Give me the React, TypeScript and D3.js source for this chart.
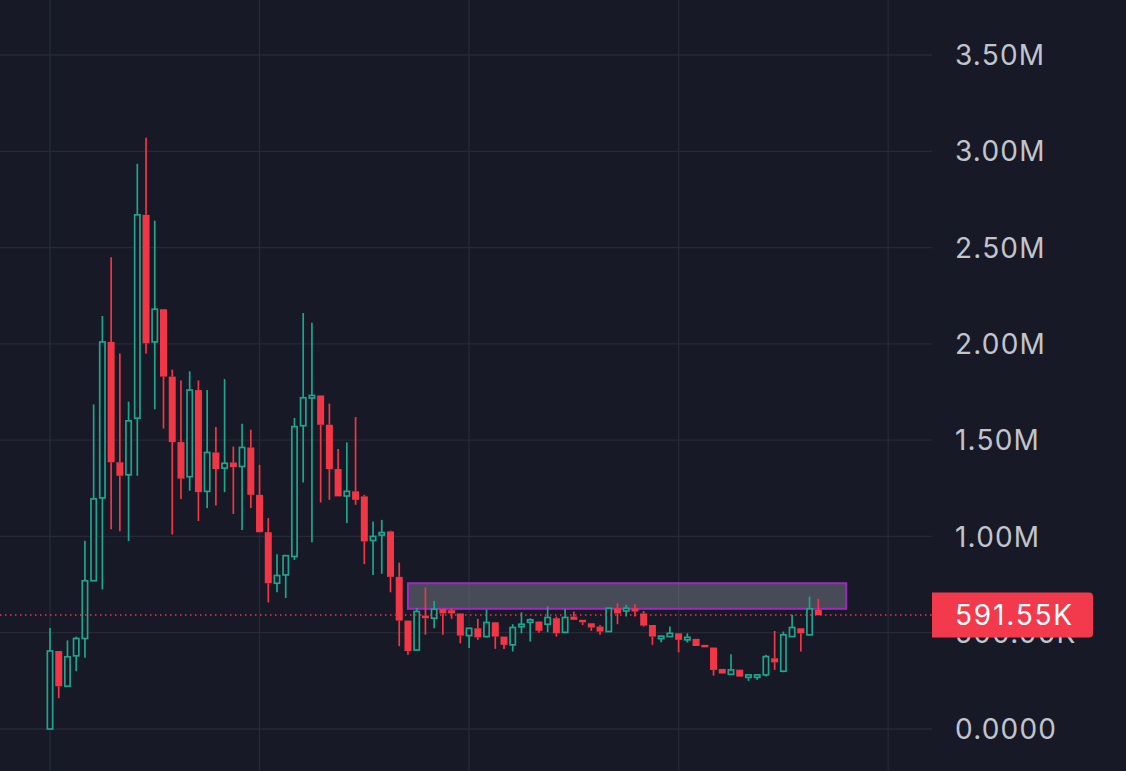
import * as d3 from 'd3';

// OHLC in thousands
const opens = [0, 405, 222, 380, 470, 770, 1200, 2010, 1385, 1320, 1614, 2670, 2010, 2180, 1830, 1490, 1310, 1760, 1234, 1436, 1355, 1384, 1363, 1462, 1216, 1022, 757, 800, 896, 1575, 1720, 1732, 1580, 1350, 1210, 1234, 1208, 979, 1008, 1026, 790, 563, 410, 589, 575, 624, 617, 600, 485, 523, 480, 554, 480, 437, 532, 558, 558, 544, 575, 502, 584, 567, 549, 532, 506, 627, 613, 627, 600, 540, 478, 480, 497, 471, 468, 437, 423, 312, 284, 308, 277, 278, 281, 367, 300, 480, 523, 489, 618];
const highs = [525, 405, 460, 480, 978, 1685, 2145, 2450, 1950, 1700, 2935, 3070, 2640, 2180, 1866, 1810, 1857, 1810, 1760, 1568, 1817, 1467, 1585, 1554, 1372, 1095, 908, 900, 1615, 2160, 2110, 1732, 1690, 1454, 1488, 1620, 1216, 1078, 1086, 1030, 864, 563, 627, 735, 665, 626, 627, 600, 525, 572, 620, 556, 480, 544, 606, 575, 560, 636, 584, 624, 610, 567, 549, 540, 630, 653, 645, 648, 613, 540, 483, 532, 497, 497, 468, 437, 423, 312, 388, 308, 281, 283, 385, 509, 506, 593, 523, 688, 676];
const lows = [0, 160, 222, 300, 370, 770, 725, 1037, 1027, 976, 1315, 1950, 1660, 1560, 1010, 1195, 1237, 1080, 1147, 1160, 1230, 1117, 1034, 1147, 1022, 657, 710, 680, 878, 1280, 970, 1176, 1190, 1208, 1070, 1164, 856, 800, 806, 710, 430, 385, 410, 490, 523, 490, 572, 445, 420, 463, 475, 416, 416, 402, 497, 454, 500, 502, 480, 497, 567, 540, 510, 489, 506, 544, 584, 584, 532, 437, 450, 480, 398, 449, 431, 426, 277, 288, 284, 272, 250, 255, 272, 307, 295, 480, 402, 487, 590];
const closes = [405, 222, 375, 470, 770, 1195, 2010, 1385, 1315, 1600, 2670, 2003, 2180, 1830, 1490, 1300, 1760, 1230, 1436, 1350, 1380, 1360, 1462, 1216, 1022, 757, 797, 900, 1570, 1720, 1732, 1580, 1350, 1208, 1234, 1190, 974, 1000, 1020, 790, 563, 405, 610, 575, 622, 600, 600, 485, 523, 476, 553, 480, 437, 527, 544, 567, 510, 579, 497, 579, 567, 554, 527, 506, 627, 600, 627, 610, 537, 480, 482, 497, 463, 476, 431, 426, 307, 288, 307, 272, 281, 281, 376, 346, 489, 527, 497, 624, 591.55];

const yTicks = [0, 500, 1000, 1500, 2000, 2500, 3000, 3500];
const yTickLabels = ['0.0000', '500.00K', '1.00M', '1.50M', '2.00M', '2.50M', '3.00M', '3.50M'];
const xGridIndex = [0, 24, 48, 72, 96];

// drawn box: candle index span and price span (K)
const zoneIndex = [41, 91.2];
const zonePrice = [624, 757];
const lastPrice = 591.55;
const lastPriceLabel = '591.55K';

const W = 1126;
const H = 771;
const BG = '#171a26';
const GRID = '#262a37';
const UP = '#1fa48d';
const DOWN = '#f23645';
const TEXT = '#c2c4cc';

export default function App() {
  const x = d3.scaleLinear().domain([0, opens.length - 1]).range([50, 818.3]);
  const y = d3.scaleLinear().domain([0, 3500]).range([729, 55]);
  const plotRight = 932;
  const bw = 7;
  const sw = 1.7;

  return (
    <svg
      width={W}
      height={H}
      style={{ position: 'fixed', left: 0, top: 0, display: 'block' }}
      fontFamily="Inter, 'Noto Sans', sans-serif"
    >
      <rect width={W} height={H} fill={BG} />

      {yTicks.map((t) => (
        <line key={'h' + t} x1={0} x2={plotRight} y1={y(t)} y2={y(t)} stroke={GRID} strokeWidth={1.3} />
      ))}
      {xGridIndex.map((i) => (
        <line key={'v' + i} x1={x(i)} x2={x(i)} y1={0} y2={H} stroke={GRID} strokeWidth={1.3} />
      ))}

      {/* zone box */}
      <rect
        x={x(zoneIndex[0])}
        y={y(zonePrice[1])}
        width={x(zoneIndex[1]) - x(zoneIndex[0])}
        height={y(zonePrice[0]) - y(zonePrice[1])}
        fill="rgba(120,124,138,0.5)"
        stroke="#9c2bbd"
        strokeWidth={2}
      />

      {opens.map((o, i) => {
        const c = closes[i];
        const up = c >= o;
        const cx = x(i);
        const top = y(Math.max(o, c));
        let bot = y(Math.min(o, c));
        if (bot - top < 2.5) bot = top + 2.5;
        const color = up ? UP : DOWN;
        return (
          <g key={i}>
            <line x1={cx} x2={cx} y1={y(highs[i])} y2={top} stroke={color} strokeWidth={sw} />
            <line x1={cx} x2={cx} y1={bot} y2={Math.max(bot, y(lows[i]))} stroke={color} strokeWidth={sw} />
            {up ? (
              <rect x={cx - bw / 2 + sw / 2} y={top} width={bw - sw} height={bot - top} fill={BG} stroke={color} strokeWidth={sw} />
            ) : (
              <rect x={cx - bw / 2} y={top} width={bw} height={bot - top} fill={color} />
            )}
          </g>
        );
      })}

      {/* last price line */}
      <line
        x1={0}
        x2={plotRight}
        y1={y(lastPrice)}
        y2={y(lastPrice)}
        stroke={DOWN}
        strokeWidth={1.5}
        strokeDasharray="1.5 3.5"
      />

      {yTicks.map((t, i) => (
        <text key={'l' + t} x={955} y={y(t)} dy="0.36em" fill={TEXT} fontSize={28} letterSpacing={1.2}>
          {yTickLabels[i]}
        </text>
      ))}

      <path
        d={`M${plotRight},${y(lastPrice) - 22.5}H1089a4,4 0 0 1 4,4V${y(lastPrice) + 18.5}a4,4 0 0 1 -4,4H${plotRight}Z`}
        fill="#f23a4c"
      />
      <text x={955} y={y(lastPrice)} dy="0.36em" fill="#ffffff" fontSize={28} letterSpacing={1.8}>
        {lastPriceLabel}
      </text>
    </svg>
  );
}
